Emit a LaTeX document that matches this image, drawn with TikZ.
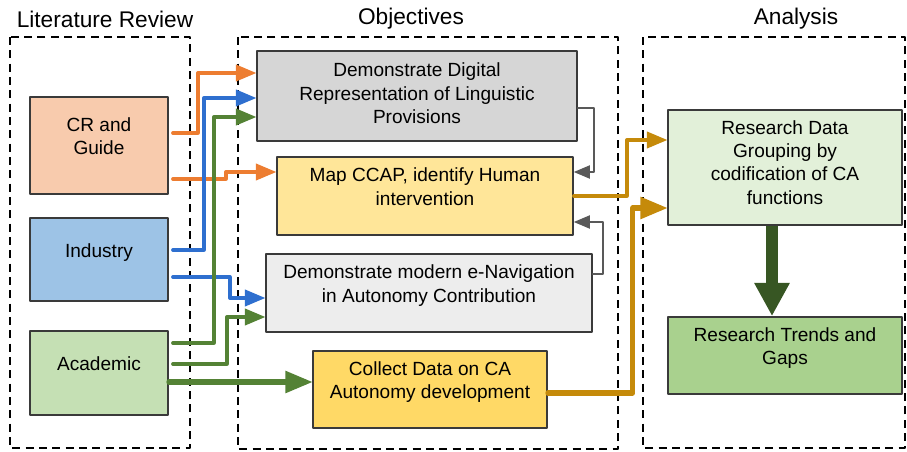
\documentclass[tikz,border=0pt]{standalone}
\usepackage{fontspec}
\setmainfont{Liberation Sans}
\usepackage{tikz}
\usetikzlibrary{arrows}
\usetikzlibrary{arrows.meta}
\definecolor{crfill}{HTML}{F8CBAD}
\definecolor{indfill}{HTML}{9DC3E6}
\definecolor{acfill}{HTML}{C5E0B4}
\definecolor{ddfill}{HTML}{D6D6D6}
\definecolor{mcfill}{HTML}{FFE699}
\definecolor{dmfill}{HTML}{EDEDED}
\definecolor{cdfill}{HTML}{FFD966}
\definecolor{rdgfill}{HTML}{E2F0D9}
\definecolor{rtgfill}{HTML}{A9D18E}
\definecolor{boxline}{HTML}{3A3A3A}
\definecolor{arrorange}{HTML}{ED7D31}
\definecolor{arrblue}{HTML}{2E6FCF}
\definecolor{arrgreen}{HTML}{548235}
\definecolor{arrgold}{HTML}{C58A0A}
\definecolor{arrgray}{HTML}{595959}
\definecolor{arrdark}{HTML}{375623}

\begin{document}
\begin{tikzpicture}[line cap=round,line join=round,>=triangle 45,x=0.75pt,y=-0.75pt,
    box/.style={draw=boxline, line width=1.3pt, align=center, inner sep=2pt, text depth=14pt, font=\fontsize{14.3}{17.5}\selectfont},
    title/.style={font=\fontsize{17}{20}\selectfont},
    frame/.style={line width=1.1pt, dash pattern=on 6pt off 4pt, line cap=butt},
    orng/.style={->, draw=arrorange, line width=2.6pt, shorten <=3pt},
    blu/.style={->, draw=arrblue, line width=2.6pt, shorten <=3pt},
    grn/.style={->, draw=arrgreen, line width=2.6pt, shorten <=3pt},
    gld/.style={->, draw=arrgold, line width=2.6pt},
    fb/.style={->, draw=arrgray, line width=1.8pt}]
    \useasboundingbox (0,0) rectangle (907,451);

    % column frames and headings
    \draw[frame] (10,37) rectangle (190,448);
    \draw[frame] (238,37) rectangle (618,449);
    \draw[frame] (643,37) rectangle (905,448);
    \node[title] (tlit) at (105,19) {Literature Review};
    \node[title] (tobj) at (411,19) {Objectives};
    \node[title] (tana) at (796,19) {Analysis};

    % literature review
    \node[box, fill=crfill, minimum width=103.5pt, minimum height=72.75pt] (cr) at (99,145.5) {CR and\\Guide};
    \node[box, fill=indfill, minimum width=103.5pt, minimum height=62.25pt] (ind) at (99,259.5) {Industry};
    \node[box, fill=acfill, minimum width=103.5pt, minimum height=63pt] (ac) at (99,373) {Academic};

    % objectives
    \node[box, fill=ddfill, text depth=4pt, minimum width=240pt, minimum height=67.5pt] (dd) at (417,96) {Demonstrate Digital\\Representation of Linguistic\\Provisions};
    \node[box, fill=mcfill, minimum width=222pt, minimum height=58.5pt] (mc) at (425,196) {Map CCAP, identify Human\\intervention};
    \node[box, fill=dmfill, minimum width=244.5pt, minimum height=58.5pt] (dm) at (429,293) {Demonstrate modern e-Navigation\\in Autonomy Contribution};
    \node[box, fill=cdfill, minimum width=175.5pt, minimum height=57.75pt] (cd) at (430,389.5) {Collect Data on CA\\Autonomy development};

    % analysis
    \node[box, fill=rdgfill, text depth=8pt, minimum width=175.5pt, minimum height=86.25pt] (rdg) at (785,167.5) {Research Data\\Grouping by\\codification of CA\\functions};
    \node[box, fill=rtgfill, minimum width=175.5pt, minimum height=57.75pt] (rtg) at (785,355.5) {Research Trends and\\Gaps};

    % sources to objectives
    \draw[orng] (cr.east |- 0,133) -- ++(29,0) |- (dd.west |- 0,73);
    \draw[orng] (cr.east |- 0,179) -- ++(57,0) |- (mc.west |- 0,172);
    \draw[blu] (ind.east |- 0,250) -- ++(35,0) |- (dd.west |- 0,98);
    \draw[blu] (ind.east |- 0,277) -- ++(61,0) |- (dm.west |- 0,298);
    \draw[grn] (ac.east |- 0,343) -- ++(45,0) |- (dd.west |- 0,117);
    \draw[grn] (ac.east |- 0,364) -- ++(58,0) |- (dm.west |- 0,317);
    \draw[->, draw=arrgreen, line width=3.8pt] (ac.east |- 0,382) -- (cd.west |- 0,382);

    % feedback into mapping
    \draw[fb] (dd.east |- 0,108) -- ++(16,0) |- (mc.east |- 0,172);
    \draw[fb] (dm.east |- 0,274) -- ++(10,0) |- (mc.east |- 0,222);

    % objectives to analysis
    \draw[gld] (mc.east |- 0,196) -- ++(53,0) |- (rdg.west |- 0,140);
    \draw[gld, line width=3.8pt] (cd.east |- 0,393) -- ++(85,0) |- (rdg.west |- 0,208);
    \draw[-{Triangle[length=25pt,width=25pt]}, draw=arrdark, fill=arrdark, line width=9pt, line cap=butt] (772,0 |- rdg.south) -- (772,0 |- rtg.north);
\end{tikzpicture}
\end{document}
